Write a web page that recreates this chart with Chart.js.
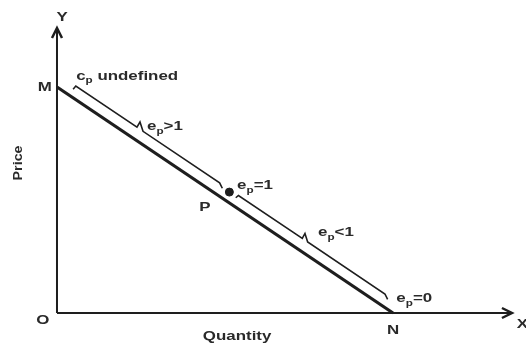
<!DOCTYPE html>
<html lang="en">
<head>
  <meta charset="UTF-8">
  <title>Price elasticity along a linear demand curve</title>
  <style>
    body { margin: 0; background: #fff; }
    .chart-box { width: 526px; height: 348px; position: relative; }
  </style>
  <script src="https://cdn.jsdelivr.net/npm/chart.js"></script>
</head>
<body>
  <div class="chart-box"><canvas id="chart"></canvas></div>

  <script>
    // demand line M -> N (quantity 0..10, price 10..0)
    const demandX = [0, 10];
    const demandY = [10, 0];

    // axes, ending at the arrow tips
    const xAxisX = [0, 13.54];
    const xAxisY = [0, 0];
    const yAxisX = [0, 0];
    const yAxisY = [0, 12.61];

    // braces drawn above the demand line
    const braceOneX = [0.48, 0.56, 2.38, 2.47, 2.56, 4.84, 4.92];
    const braceOneY = [9.9, 10.04, 8.22, 8.45, 8.04, 5.76, 5.52];
    const braceTwoX = [5.32, 5.4, 7.3, 7.38, 7.46, 9.76, 9.84];
    const braceTwoY = [5.1, 5.2, 3.3, 3.52, 3.14, 0.84, 0.6];

    // unit elastic point P
    const pointX = [5.13];
    const pointY = [5.35];

    // labels: [main, subscript, rest]
    const labelTexts = [
      ['Y', '', ''],
      ['M', '', ''],
      ['O', '', ''],
      ['N', '', ''],
      ['X', '', ''],
      ['P', '', ''],
      ['Quantity', '', ''],
      ['c', 'p', ' undefined'],
      ['e', 'p', '>1'],
      ['e', 'p', '=1'],
      ['e', 'p', '<1'],
      ['e', 'p', '=0']
    ];
    const labelAnchors = [
      { x: 0.15, y: 13.1, align: 'center' },
      { x: -0.36, y: 10, align: 'center' },
      { x: -0.42, y: -0.31, align: 'center' },
      { x: 10, y: -0.75, align: 'center' },
      { x: 13.85, y: -0.5, align: 'center' },
      { x: 4.4, y: 4.65, align: 'center' },
      { x: 5.36, y: -1.02, align: 'center' },
      { x: 0.57, y: 10.49, align: 'left' },
      { x: 2.68, y: 8.27, align: 'left' },
      { x: 5.36, y: 5.66, align: 'left' },
      { x: 7.77, y: 3.58, align: 'left' },
      { x: 10.1, y: 0.66, align: 'left' }
    ];
    const yTitle = 'Price';

    const ink = '#1e1e1e';
    const textInk = '#2a2a2a';
    const stretch = 1.3; // scanned text is wide

    function pts(xs, ys) {
      return xs.map((x, i) => ({ x: x, y: ys[i] }));
    }

    function lineSet(xs, ys, width) {
      return {
        data: pts(xs, ys),
        showLine: true,
        borderColor: ink,
        borderWidth: width,
        pointRadius: 0,
        tension: 0,
        clip: false
      };
    }

    const textPlugin = {
      id: 'diagramText',
      afterDatasetsDraw(chart) {
        const ctx = chart.ctx;
        const sx = chart.scales.x;
        const sy = chart.scales.y;
        ctx.save();
        ctx.strokeStyle = ink;

        // arrow heads on the axes
        ctx.lineWidth = 2.5;
        const xt = { x: sx.getPixelForValue(xAxisX[1]), y: sy.getPixelForValue(xAxisY[1]) };
        ctx.beginPath();
        ctx.moveTo(xt.x - 10, xt.y - 5);
        ctx.lineTo(xt.x, xt.y);
        ctx.lineTo(xt.x - 10, xt.y + 5);
        ctx.stroke();
        const yt = { x: sx.getPixelForValue(yAxisX[1]), y: sy.getPixelForValue(yAxisY[1]) };
        ctx.beginPath();
        ctx.moveTo(yt.x - 5, yt.y + 10);
        ctx.lineTo(yt.x, yt.y);
        ctx.lineTo(yt.x + 5, yt.y + 10);
        ctx.stroke();

        ctx.fillStyle = textInk;
        ctx.textBaseline = 'middle';
        const big = 'bold 13px "Liberation Sans", Arial, sans-serif';
        const small = 'bold 9px "Liberation Sans", Arial, sans-serif';
        labelTexts.forEach((parts, i) => {
          const a = labelAnchors[i];
          const px = sx.getPixelForValue(a.x);
          const py = sy.getPixelForValue(a.y);
          ctx.font = big;
          const w1 = ctx.measureText(parts[0]).width;
          const w3 = ctx.measureText(parts[2]).width;
          ctx.font = small;
          const w2 = ctx.measureText(parts[1]).width;
          const total = w1 + w2 + w3;
          ctx.save();
          ctx.translate(px, py);
          ctx.scale(stretch, 1);
          let cx = a.align === 'center' ? -total / 2 : 0;
          ctx.textAlign = 'left';
          ctx.font = big;
          ctx.fillText(parts[0], cx, 0);
          cx += w1;
          if (parts[1]) {
            ctx.font = small;
            ctx.fillText(parts[1], cx, 5);
            cx += w2;
          }
          ctx.font = big;
          ctx.fillText(parts[2], cx, 0);
          ctx.restore();
        });

        // rotated y title
        ctx.save();
        ctx.translate(sx.getPixelForValue(-1.16), sy.getPixelForValue(6.64));
        ctx.rotate(-Math.PI / 2);
        ctx.scale(1.1, 1.05);
        ctx.textAlign = 'center';
        ctx.font = big;
        ctx.fillText(yTitle, 0, 0);
        ctx.restore();

        ctx.restore();
      }
    };

    new Chart(document.getElementById('chart'), {
      type: 'scatter',
      data: {
        datasets: [
          lineSet(xAxisX, xAxisY, 2),
          lineSet(yAxisX, yAxisY, 2),
          lineSet(demandX, demandY, 3.2),
          lineSet(braceOneX, braceOneY, 1.6),
          lineSet(braceTwoX, braceTwoY, 1.6),
          {
            data: pts(pointX, pointY),
            pointRadius: 4,
            backgroundColor: ink,
            borderColor: ink,
            clip: false
          }
        ]
      },
      options: {
        responsive: true,
        maintainAspectRatio: false,
        animation: false,
        layout: { padding: 0, autoPadding: false },
        plugins: { legend: { display: false }, tooltip: { enabled: false } },
        scales: {
          x: { type: 'linear', display: false, min: -1.696, max: 13.958 },
          y: { type: 'linear', display: false, min: -1.549, max: 13.85 }
        }
      },
      plugins: [textPlugin]
    });
  </script>
</body>
</html>
